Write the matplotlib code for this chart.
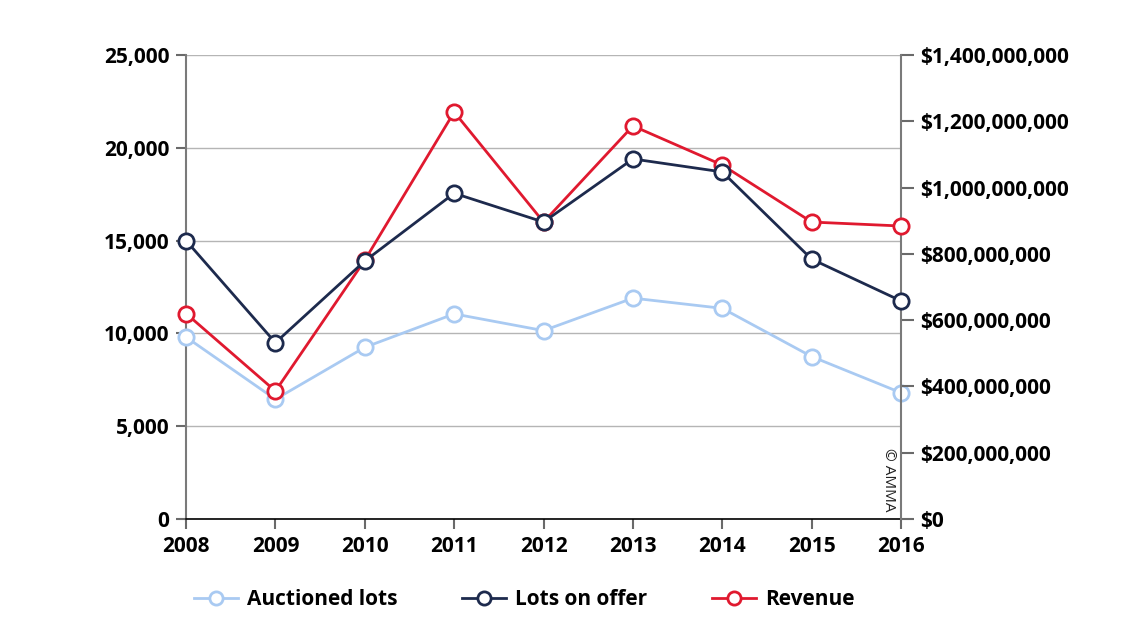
import matplotlib
matplotlib.use("Agg")
import matplotlib.pyplot as plt
from matplotlib.ticker import FuncFormatter, MultipleLocator
from matplotlib.lines import Line2D

years = [2008, 2009, 2010, 2011, 2012, 2013, 2014, 2015, 2016]
auctioned_lots = [9800, 6450, 9250, 11050, 10150, 11900, 11350, 8750, 6800]
lots_on_offer = [15000, 9500, 13900, 17550, 16000, 19400, 18700, 14000, 11750]
revenue = [620e6, 386e6, 781e6, 1228e6, 896e6, 1186e6, 1068e6, 896e6, 884e6]

c_light = "#a9caf2"
c_navy = "#1d2a4d"
c_red = "#e0192f"

plt.rcParams['font.family'] = ['Open Sans', 'DejaVu Sans']

fig = plt.figure(figsize=(11.4, 6.36), dpi=100)
ax = fig.add_axes([0.1632, 0.184, 0.6272, 0.7295])
ax2 = ax.twinx()

lw = 2.0
ms = 11
mew = 2.0

ax.plot(years, auctioned_lots, color=c_light, lw=lw, marker='o', ms=ms,
        mfc='white', mec=c_light, mew=mew, zorder=3, clip_on=False)
ax.set_zorder(2)
ax2.set_zorder(3)
ax.patch.set_visible(False)
ax2.plot(years, revenue, color=c_red, lw=lw, marker='o', ms=ms,
         mfc='white', mec=c_red, mew=mew, zorder=3, clip_on=False)
ax3 = ax.twinx()
ax3.set_zorder(4)
ax3.plot(years, lots_on_offer, color=c_navy, lw=lw, marker='o', ms=ms,
         mfc='white', mec=c_navy, mew=mew, zorder=3, clip_on=False)
ax3.set_ylim(0, 25000)
ax3.axis('off')

ax.set_xlim(2008, 2016)
ax.set_ylim(0, 25000)
ax2.set_ylim(0, 1.4e9)
ax.yaxis.set_major_locator(MultipleLocator(5000))
ax2.yaxis.set_major_locator(MultipleLocator(2e8))
ax.set_xticks(years)
ax.set_xticklabels([str(y) for y in years])

ax.yaxis.set_major_formatter(FuncFormatter(lambda v, p: f"{int(v):,}"))
ax2.yaxis.set_major_formatter(FuncFormatter(lambda v, p: f"${int(v):,}"))

ax.grid(axis='y', color='#b5b5b5', lw=1.0)
ax.set_axisbelow(True)

for a in (ax, ax2):
    a.spines['top'].set_visible(False)
ax.spines['left'].set_color('#7a7a7a')
ax.spines['left'].set_linewidth(1.5)
ax2.spines['right'].set_color('#7a7a7a')
ax2.spines['right'].set_linewidth(1.5)
ax2.spines['left'].set_visible(False)
ax2.spines['bottom'].set_visible(False)
ax.spines['right'].set_visible(False)
ax.spines['bottom'].set_color('black')
ax.spines['bottom'].set_linewidth(1.2)

fs = 15
ax.tick_params(axis='y', length=7, width=1.5, color='#6a6a6a', labelsize=fs, pad=5)
ax.tick_params(axis='x', length=7, width=1.5, color='#6a6a6a', labelsize=fs, pad=5)
ax2.tick_params(axis='y', length=9, width=1.5, color='#6a6a6a', labelsize=fs, pad=5)
for lab in ax.get_yticklabels() + ax.get_xticklabels() + ax2.get_yticklabels():
    lab.set_fontweight('bold')

fig.text(0.779, 0.245, "© AMMA", rotation=-90, ha='center', va='center',
         fontsize=11, color='#222222')

lms = 9.5
handles = [
    Line2D([], [], color=c_light, lw=lw, marker='o', ms=lms, mfc='white', mec=c_light, mew=mew),
    Line2D([], [], color=c_navy, lw=lw, marker='o', ms=lms, mfc='white', mec=c_navy, mew=mew),
    Line2D([], [], color=c_red, lw=lw, marker='o', ms=lms, mfc='white', mec=c_red, mew=mew),
]
leg = fig.legend(handles, ["Auctioned lots", "Lots on offer", "Revenue"],
                 loc='center', bbox_to_anchor=(0.46, 0.057), ncol=3, frameon=False,
                 prop={'weight': 'bold', 'size': fs}, handlelength=2.1,
                 columnspacing=3.1, handletextpad=0.45)

fig.savefig("out.png", dpi=100)
